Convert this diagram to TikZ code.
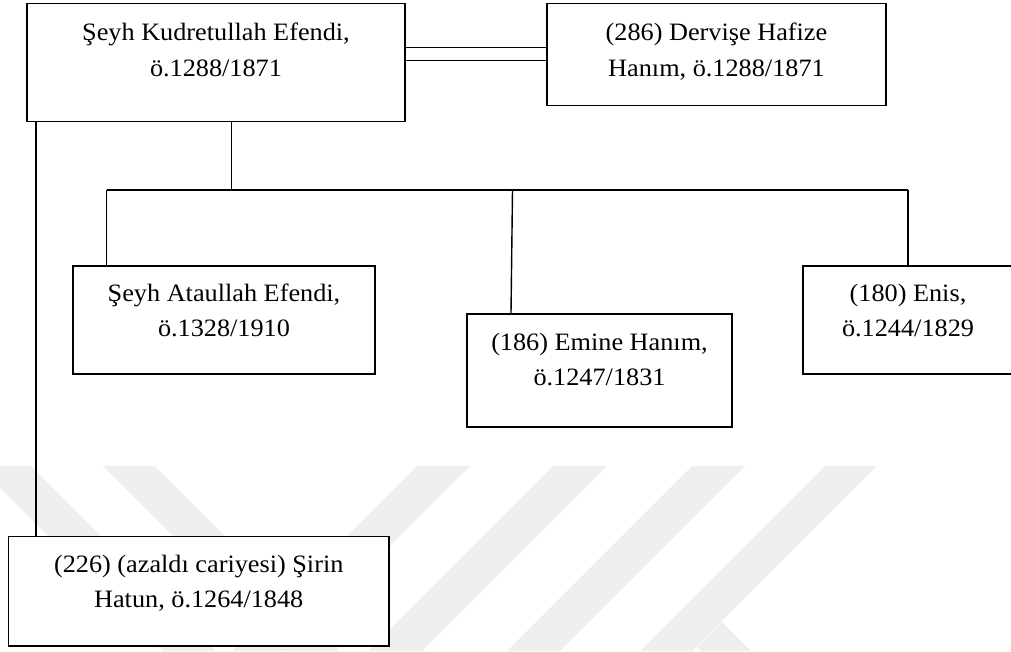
\documentclass[tikz,border=0pt]{standalone}
\usepackage{fontspec}
\newfontfamily\trfont{Liberation Serif}[FakeStretch=1.05]
\definecolor{wmgray}{RGB}{239,239,239}
\tikzset{
  box/.style={draw, line width=1.8pt, fill=white, inner sep=0pt, rectangle},
  txt/.style={inner sep=0pt, anchor=base, font=\trfont\fontsize{25}{36}\selectfont},
  conn/.style={line width=1.4pt},
  dbl/.style={line width=1.8pt},
  wm/.style={fill=wmgray, draw=none}
}
\begin{document}
\begin{tikzpicture}[x=1pt, y=-1pt]
\useasboundingbox (0,0) rectangle (1011,651);
\clip (0,0) rectangle (1011,651);
% watermark
\fill[wm] (-22,466) -- (31,466) -- (216,651) -- (163,651) -- cycle;
\fill[wm] (103,466) -- (155,466) -- (340,651) -- (288,651) -- cycle;
\fill[wm] (417,466) -- (470,466) -- (285,651) -- (232,651) -- cycle;
\fill[wm] (553,466) -- (607,466) -- (422,651) -- (368,651) -- cycle;
\fill[wm] (692,466) -- (745,466) -- (560,651) -- (507,651) -- cycle;
\fill[wm] (825,466) -- (877,466) -- (692,651) -- (640,651) -- cycle;
\fill[wm] (722,622) -- (751,651) -- (701,651) -- (697,647) -- cycle;
% boxes
\node[box, minimum width=378pt, minimum height=118pt] (A) at (216,62.5) {};
\node[box, minimum width=339pt, minimum height=102pt] (B) at (716.5,54.5) {};
\node[box, minimum width=302pt, minimum height=108pt] (C) at (224,320) {};
\node[box, minimum width=265pt, minimum height=113pt] (D) at (599.5,370.5) {};
\node[box, minimum width=210pt, minimum height=108pt] (E) at (908,320) {};
\node[box, minimum width=380.5pt, minimum height=109.5pt] (F) at (198.75,591.25) {};
% texts
\node[txt] (A1) at (216,40) {Şeyh Kudretullah Efendi,};
\node[txt] (A2) at (216,76) {ö.1288/1871};
\node[txt] (B1) at (716.5,40) {(286) Dervişe Hafize};
\node[txt] (B2) at (716.5,76) {Hanım, ö.1288/1871};
\node[txt] (C1) at (224,301) {Şeyh Ataullah Efendi,};
\node[txt] (C2) at (224,336.5) {ö.1328/1910};
\node[txt] (D1) at (599.5,350) {(186) Emine Hanım,};
\node[txt] (D2) at (599.5,385.5) {ö.1247/1831};
\node[txt] (E1) at (908,301) {(180) Enis,};
\node[txt] (E2) at (908,336.5) {ö.1244/1829};
\node[txt] (F1) at (198.75,572) {(226) (azaldı cariyesi) Şirin};
\node[txt] (F2) at (198.75,607) {Hatun, ö.1264/1848};
% connector coordinates
\coordinate (m1) at (0,47.5);
\coordinate (m2) at (0,60.5);
\coordinate (j) at (231.5,190);
\coordinate (cA) at (106.5,190);
\coordinate (dD) at (512.5,190);
\coordinate (dDb) at (511,190);
\coordinate (lx) at (36,0);
% marriage double line
\draw[dbl] (A.east |- m1) -- (B.west |- m1);
\draw[dbl] (A.east |- m2) -- (B.west |- m2);
% children
\draw[conn] (A.south -| j) -- (j);
\draw[conn] (cA) -- (E.north |- j);
\draw[conn] (cA) -- (cA |- C.north);
\draw[conn] (dD) -- (dDb |- D.north);
\draw[conn] (E.north |- j) -- (E.north);
% concubine line
\draw[conn] (A.south -| lx) -- (F.north -| lx);
\end{tikzpicture}
\end{document}
